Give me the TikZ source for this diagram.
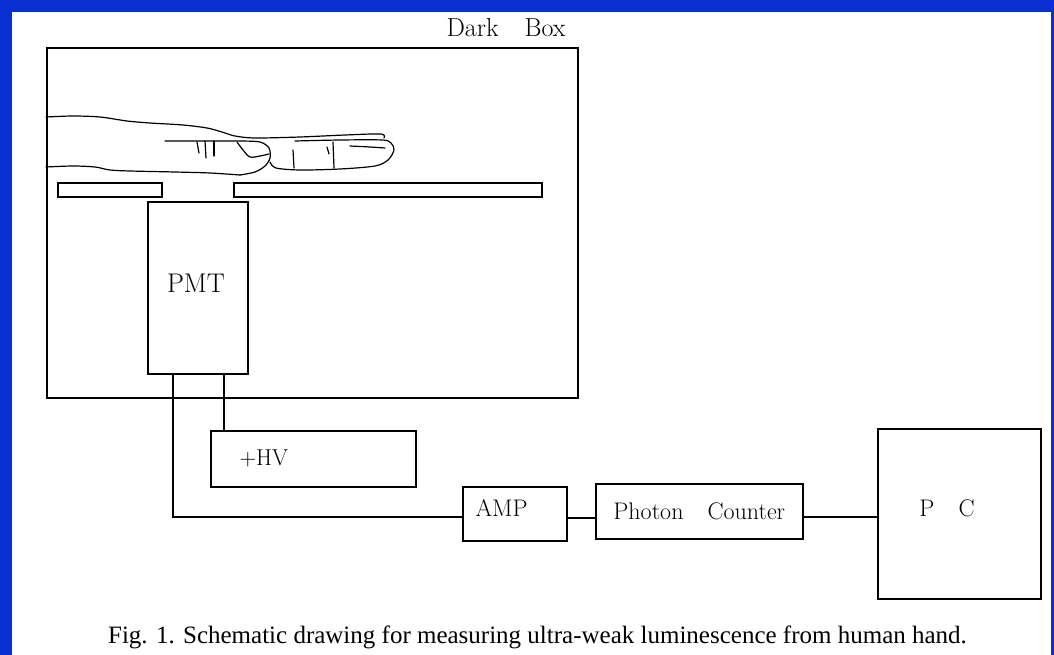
\documentclass[tikz,border=0pt]{standalone}
\usepackage{fontspec}
\newfontfamily\capfont{Liberation Serif}
\usetikzlibrary{positioning}

\definecolor{framebl}{RGB}{8,48,208}
\newcommand\boxfont[1]{\fontsize{#1}{#1}\selectfont\addfontfeatures{FakeBold=0.9}}

\begin{document}
\begin{tikzpicture}[x=1pt,y=-1pt,
  box/.style={draw,line width=1.6pt,inner sep=0pt,anchor=north west,
    font=\boxfont{24}},
  wire/.style={line width=1.5pt},
  hand/.style={line width=1.2pt,line join=round,line cap=round}]
% page and frame
\fill[white] (0,0) rectangle (1054,655);
\fill[framebl] (0,0) rectangle (1054,12);
\fill[framebl] (0,0) rectangle (12,655);
\fill[framebl] (1051,0) rectangle (1054,655);

% dark box with the window plates and the PMT
\node[box,minimum width=531pt,minimum height=350pt] (darkbox) at (46,47) {};
\node[font=\boxfont{26}] (dbtext) at (506,28) {Dark\quad Box};
\node[box,minimum width=104pt,minimum height=14pt] (plateL) at (57,182) {};
\node[box,minimum width=308pt,minimum height=14pt] (plateR) at (233,182) {};
\node[box,minimum width=100pt,minimum height=172pt] (pmt) at (147,201) {};
\node[font=\boxfont{27}] (pmttext) at (196,283) {PMT};

% outside units
\node[box,minimum width=205pt,minimum height=56pt,
  label={[xshift=26pt,anchor=west,font=\boxfont{23}]west:+HV}] (hv) at (210,430) {};
\node[box,minimum width=104pt,minimum height=54pt,
  label={[xshift=10pt,yshift=6pt,anchor=west,font=\boxfont{24}]west:AMP}] (amp) at (462,486) {};
\node[box,minimum width=207pt,minimum height=55pt] (counter) at (595,483) {Photon\quad Counter};
\node[box,minimum width=163pt,minimum height=170pt] (pc) at (877,428) {};
\node[font=\boxfont{24}] (pctext) at (947,508) {P\quad C};

% cables
\coordinate (sig) at (173,373);
\coordinate (hvin) at (224,373);
\draw[wire] (sig) |- (amp.west |- 0,517);
\draw[wire] (hvin) -- (hvin |- hv.north);
\draw[wire] (amp.east |- 0,518) -- (counter.west |- 0,518);
\draw[wire] (counter.east |- 0,517) -- (pc.west |- 0,517);

% the hand resting on the plates
\draw[hand] plot[smooth] coordinates {(46,117) (73,116) (100,117) (127,121) (150,123) (183,125) (207,128) (222,132) (235,136) (255,138) (300,137) (345,135) (381,134) (384,138)};
\draw[hand] plot[smooth] coordinates {(165,141) (210,141) (240,141) (260,142) (269,148) (270,158) (265,166) (255,172) (240,175)};
\draw[hand] plot[smooth] coordinates {(46,167) (73,166) (95,167) (110,170) (130,171) (175,172) (210,173) (240,175)};
\draw[hand] plot[smooth] coordinates {(237,142) (243,150) (250,157) (260,156) (269,154)};
\draw[hand] plot[smooth] coordinates {(270,162) (276,168) (300,170) (340,169) (375,166) (388,160) (394,150) (391,143) (382,140) (340,140) (295,141)};
\draw[hand] plot[smooth] coordinates {(350,146) (370,147) (385,148)};
\draw[hand] (197,142) -- (199,153);
\draw[hand] (205,141) -- (206,158);
\draw[hand] (214,141) -- (214,156);
\draw[hand] (293,150) -- (294,168);
\draw[hand] (333,142) -- (334,168);
\draw[hand] (327,147) -- (329,154);

% caption
\node[font=\capfont\fontsize{25}{29}\selectfont,anchor=base] (caption) at (537.5,643)
  {Fig. 1. Schematic drawing for measuring ultra-weak luminescence from human hand.};
\end{tikzpicture}
\end{document}
